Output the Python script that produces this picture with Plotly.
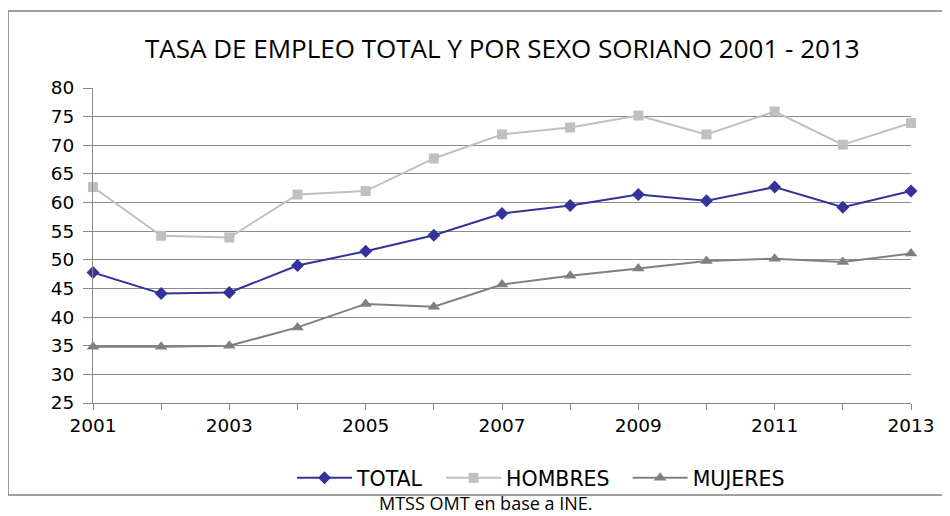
import plotly.graph_objects as go

years = list(range(2001, 2014))
total = [47.8, 44.1, 44.3, 49.0, 51.5, 54.3, 58.1, 59.5, 61.4, 60.3, 62.7, 59.2, 62.0]
hombres = [62.7, 54.2, 53.9, 61.4, 62.0, 67.7, 71.9, 73.1, 75.2, 71.9, 75.9, 70.1, 73.9]
mujeres = [34.8, 34.8, 35.0, 38.2, 42.3, 41.8, 45.7, 47.2, 48.5, 49.8, 50.2, 49.6, 51.1]
series_names = ["TOTAL", "HOMBRES", "MUJERES"]
tick_years = [2001, 2003, 2005, 2007, 2009, 2011, 2013]
y_ticks = list(range(25, 81, 5))

PAD = "\u00a0\u00a0"

fig = go.Figure()
fig.add_trace(go.Scatter(x=years, y=total, name=series_names[0] + PAD, mode="lines+markers",
                         line=dict(color="#333399", width=2),
                         marker=dict(symbol="diamond", size=10, color="#333399"),
                         cliponaxis=False))
fig.add_trace(go.Scatter(x=years, y=hombres, name=series_names[1] + PAD, mode="lines+markers",
                         line=dict(color="#C0C0C0", width=2),
                         marker=dict(symbol="square", size=10, color="#C0C0C0"),
                         cliponaxis=False))
fig.add_trace(go.Scatter(x=years, y=mujeres, name=series_names[2], mode="lines+markers",
                         line=dict(color="#808080", width=2),
                         marker=dict(symbol="triangle-up", size=11, color="#808080"),
                         cliponaxis=False))

# page is offset by the 8px body margin
OFF = 8
W, H = 942, 508
L, R, T, B = 85, 39, 80, 113
pw = W - L - R
ph = H - T - B

def px(x):
    return (x - OFF - L) / pw

def py(y):
    return (H - B - (y - OFF)) / ph

fig.update_layout(
    width=W, height=H,
    margin=dict(l=L, r=R, t=T, b=B, autoexpand=False),
    paper_bgcolor="white", plot_bgcolor="white",
    font=dict(family="DejaVu Sans", size=18, color="#000000"),
    showlegend=True,
    legend=dict(orientation="h", x=px(541), xanchor="center", y=py(478), yanchor="middle",
                font=dict(family="DejaVu Sans", size=20.5), itemwidth=55,
                bgcolor="rgba(0,0,0,0)", traceorder="normal"),
    xaxis=dict(range=[2001, 2013], tickmode="array", tickvals=years,
               ticktext=[str(y) if y in tick_years else "" for y in years],
               showgrid=False, showline=True, linecolor="#888888", linewidth=1,
               ticks="outside", ticklen=6, tickcolor="#888888", zeroline=False,
               tickfont=dict(family="DejaVu Sans", size=18.5)),
    yaxis=dict(range=[25, 80], tickmode="array", tickvals=y_ticks,
               showgrid=True, gridcolor="#8c8c8c", gridwidth=1,
               showline=True, linecolor="#888888", linewidth=1,
               ticks="outside", ticklen=9, tickcolor="#888888", zeroline=False,
               ticklabelstandoff=5,
               tickfont=dict(family="DejaVu Sans", size=18.5)),
    shapes=[dict(type="rect", xref="paper", yref="paper",
                 x0=px(8), x1=px(960), y0=py(495), y1=py(11),
                 line=dict(color="#808080", width=1.5), fillcolor="rgba(0,0,0,0)",
                 layer="below")],
    annotations=[
        dict(text="TASA DE EMPLEO TOTAL Y POR SEXO SORIANO 2001 - 2013",
             xref="paper", yref="paper", x=px(502), y=py(48),
             xanchor="center", yanchor="middle", showarrow=False,
             font=dict(family="Open Sans", size=26, color="#000000")),
        dict(text="MTSS OMT en base a INE.",
             xref="paper", yref="paper", x=px(486), y=py(503),
             xanchor="center", yanchor="middle", showarrow=False,
             borderpad=0,
             font=dict(family="Open Sans", size=18, color="#000000")),
    ],
)

fig.write_html("out.html")
